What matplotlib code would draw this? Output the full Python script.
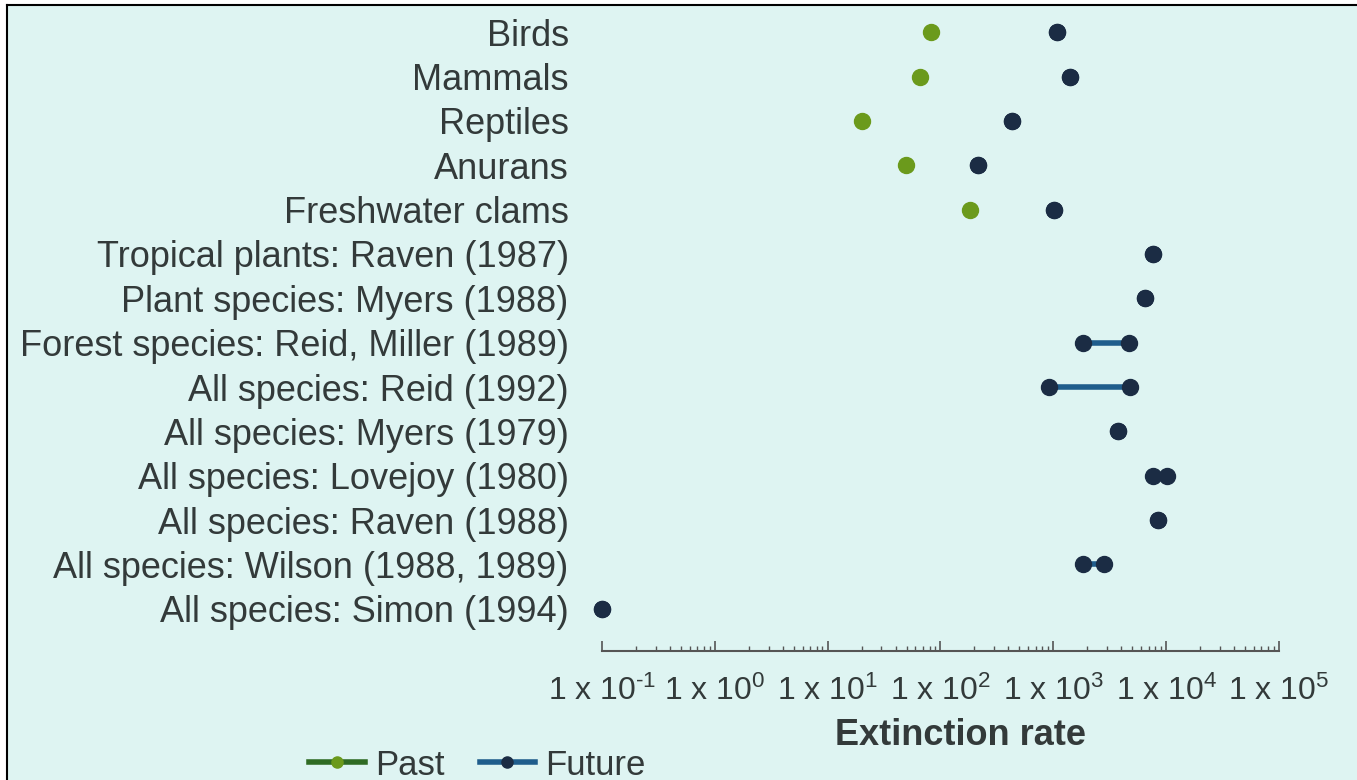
import numpy as np
import matplotlib
matplotlib.use("Agg")
import matplotlib.pyplot as plt
from matplotlib.lines import Line2D
from matplotlib.patches import Rectangle
from matplotlib.ticker import LogLocator, FixedLocator, FixedFormatter, NullFormatter

plt.rcParams['font.family'] = ['Liberation Sans', 'DejaVu Sans']
plt.rcParams['mathtext.default'] = 'regular'

# data
categories = [
    'Birds', 'Mammals', 'Reptiles', 'Anurans', 'Freshwater clams',
    'Tropical plants: Raven (1987)', 'Plant species: Myers (1988)',
    'Forest species: Reid, Miller (1989)', 'All species: Reid (1992)',
    'All species: Myers (1979)', 'All species: Lovejoy (1980)',
    'All species: Raven (1988)', 'All species: Wilson (1988, 1989)',
    'All species: Simon (1994)',
]
past = [83, 66, 20, 49, 183, np.nan, np.nan, np.nan, np.nan, np.nan, np.nan, np.nan, np.nan, np.nan]
future_low = [1070, 1400, 430, 215, 1020, 7600, 6500, 1830, 920, 3730, 7600, 8500, 1830, 0.1]
future_high = [1070, 1400, 430, 215, 1020, 7600, 6500, 4700, 4800, 3730, 10200, 8500, 2800, 0.1]
tick_values = [0.1, 1, 10, 100, 1000, 10000, 100000]
tick_labels = ['1 x 10$^{\u2010' + '1}$', '1 x 10$^{0}$', '1 x 10$^{1}$', '1 x 10$^{2}$',
               '1 x 10$^{3}$', '1 x 10$^{4}$', '1 x 10$^{5}$']

bg = '#def4f2'
txt = '#333a3a'
green = '#6b9a1c'
green_line = '#2f6b24'
navy = '#1b2c44'
blue = '#1f5d8c'

fig = plt.figure(figsize=(13.57, 7.8), dpi=100, facecolor=bg)
ax = fig.add_axes([0.4436, 0.1654, 0.4989, 0.8218])
ax.set_facecolor(bg)

y = np.arange(len(categories))

# future ranges (line between low and high), then markers
for yi, lo, hi in zip(y, future_low, future_high):
    if hi / lo > 1.5:
        ax.plot([lo, hi], [yi, yi], color=blue, lw=4, solid_capstyle='butt', zorder=2)
ax.plot(future_low, y, 'o', color=navy, ms=11.5, zorder=3, clip_on=False)
ax.plot(future_high, y, 'o', color=navy, ms=11.5, zorder=3, clip_on=False)
ax.plot(past, y, 'o', color=green, ms=11.5, zorder=3, clip_on=False)

ax.set_xscale('log')
ax.set_xlim(0.1, 1e5)
ax.set_ylim(13.95, -0.5)

ax.set_yticks(y)
ax.set_yticklabels(categories, fontsize=26, color=txt)
ax.tick_params(axis='y', length=0, pad=24)

ax.xaxis.set_major_locator(FixedLocator(tick_values))
ax.xaxis.set_major_formatter(FixedFormatter(tick_labels))
ax.xaxis.set_minor_locator(LogLocator(base=10, subs=np.arange(2, 10), numticks=20))
ax.xaxis.set_minor_formatter(NullFormatter())
ax.tick_params(axis='x', which='major', direction='in', length=7, width=1.2,
               color='#555555', labelsize=23, labelcolor=txt, pad=18)
ax.tick_params(axis='x', which='minor', direction='in', length=3.5, width=1,
               color='#555555')

for s in ['top', 'right', 'left']:
    ax.spines[s].set_visible(False)
ax.spines['bottom'].set_color('#555555')
ax.spines['bottom'].set_linewidth(1.5)

ax.set_xlabel('Extinction rate', fontsize=26, fontweight='bold', color=txt)
ax.xaxis.set_label_coords(0.53, -0.105)

# legend
handles = [
    Line2D([], [], color=green_line, lw=4, marker='o', ms=8,
           markerfacecolor=green, markeredgecolor=green),
    Line2D([], [], color=blue, lw=4, marker='o', ms=8,
           markerfacecolor=navy, markeredgecolor=navy),
]
fig.legend(handles, ['Past', 'Future'], loc='lower left', bbox_to_anchor=(0.205, -0.042),
           ncol=2, frameon=False, fontsize=25, handlelength=1.6, handletextpad=0.3,
           columnspacing=1.0, labelcolor=txt)

# white margin and black frame lines at top and left
fig.add_artist(Rectangle((0, 0), 7 / 1357, 1, transform=fig.transFigure,
                         facecolor='white', edgecolor='none', zorder=0))
fig.add_artist(Rectangle((0, 1 - 5 / 780), 1, 5 / 780, transform=fig.transFigure,
                         facecolor='white', edgecolor='none', zorder=0))
fig.add_artist(Line2D([7 / 1357, 7 / 1357], [0, 1 - 5 / 780], transform=fig.transFigure,
                      color='black', lw=1.5))
fig.add_artist(Line2D([7 / 1357, 1], [1 - 5 / 780, 1 - 5 / 780], transform=fig.transFigure,
                      color='black', lw=1.5))

fig.savefig('out.png', dpi=100, facecolor=bg)
